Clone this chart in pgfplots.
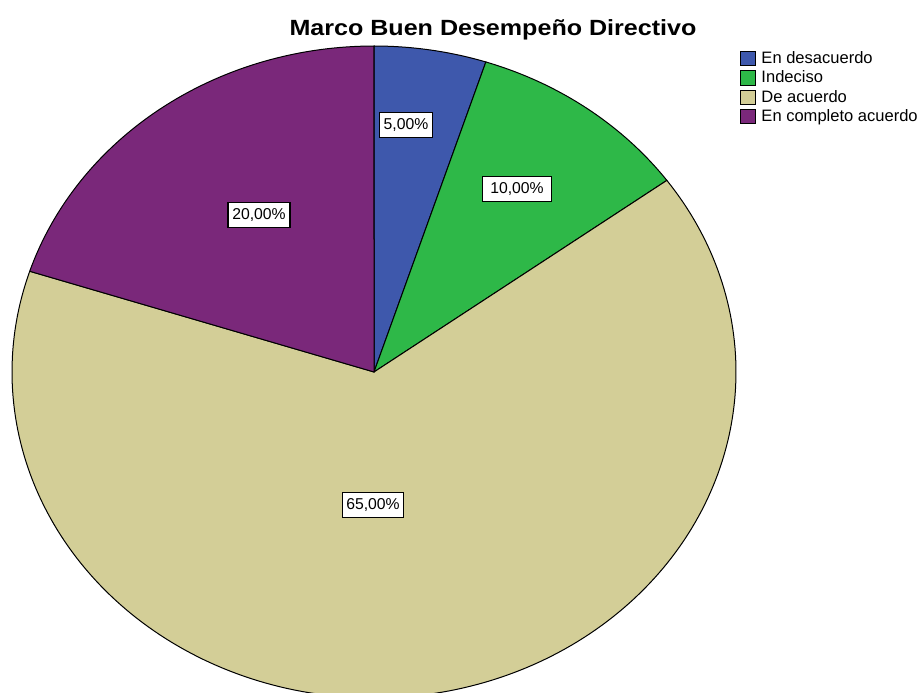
\documentclass[border=0pt]{standalone}
\usepackage{fontspec}
\setmainfont{Liberation Sans}
\usepackage{graphicx}
\usepackage{pgfplots}
\pgfplotsset{compat=1.18}
\definecolor{cBlue}{RGB}{62,88,172}
\definecolor{cGreen}{RGB}{46,184,72}
\definecolor{cTan}{RGB}{211,206,151}
\definecolor{cPurple}{RGB}{122,40,122}
% values (percent): En desacuerdo 5, Indeciso 10, De acuerdo 65, En completo acuerdo 20
\begin{document}
\begin{tikzpicture}
\begin{axis}[
  name=ax,
  x=0.75pt, y=0.75pt,
  xmin=0, xmax=922, ymin=0, ymax=693,
  hide axis, clip=true,
  legend style={draw=none, fill=none, at={(axis cs:739,645)}, anchor=north west,
    font=\fontsize{12.4pt}{13pt}\selectfont, row sep=0pt, column sep=0pt, inner sep=0.5pt,
    cells={anchor=west, inner xsep=1.5pt, inner ysep=1pt}},
  legend image code/.code={\draw[#1, draw=black, line width=0.75pt] (0pt,-5.4pt) rectangle (11.4pt,5.4pt);},
  every axis plot/.append style={draw=black, line width=0.75pt, samples=80},
]
% slices: start at top, clockwise; angle = value*3.6
\addplot[fill=cBlue, domain=0:5*3.6] ({374+362*sin(x)},{321+326*cos(x)}) -- (axis cs:374,321) -- cycle;
\addlegendentry{\hspace{2pt}En desacuerdo}
\addplot[fill=cGreen, domain=5*3.6:15*3.6] ({374+362*sin(x)},{321+326*cos(x)}) -- (axis cs:374,321) -- cycle;
\addlegendentry{\hspace{2pt}Indeciso}
\addplot[fill=cTan, domain=15*3.6:80*3.6, samples=200] ({374+362*sin(x)},{321+326*cos(x)}) -- (axis cs:374,321) -- cycle;
\addlegendentry{\hspace{2pt}De acuerdo}
\addplot[fill=cPurple, domain=80*3.6:100*3.6] ({374+362*sin(x)},{321+326*cos(x)}) -- (axis cs:374,321) -- cycle;
\addlegendentry{\hspace{2pt}En completo acuerdo}
\begin{scope}[every node/.style={draw=black, fill=white, line width=0.9pt, inner sep=0pt,
   minimum height=18.5pt, font=\fontsize{11.8pt}{13pt}\selectfont}]
\node[minimum width=39.5pt] at (axis cs:406,568) {5,00\%};
\node[minimum width=51.5pt] at (axis cs:517,504) {10,00\%};
\node[minimum width=46.5pt] at (axis cs:259,478) {20,00\%};
\node[minimum width=46pt] at (axis cs:373,188) {65,00\%};
\end{scope}
\node[font=\fontsize{16.5pt}{18pt}\selectfont\bfseries] at (axis cs:493,663) {\scalebox{1.14}[1]{Marco Buen Desempeño Directivo}};
\end{axis}
\pgfresetboundingbox
\path[use as bounding box] (ax.south west) rectangle (ax.north east);
\end{tikzpicture}
\end{document}
